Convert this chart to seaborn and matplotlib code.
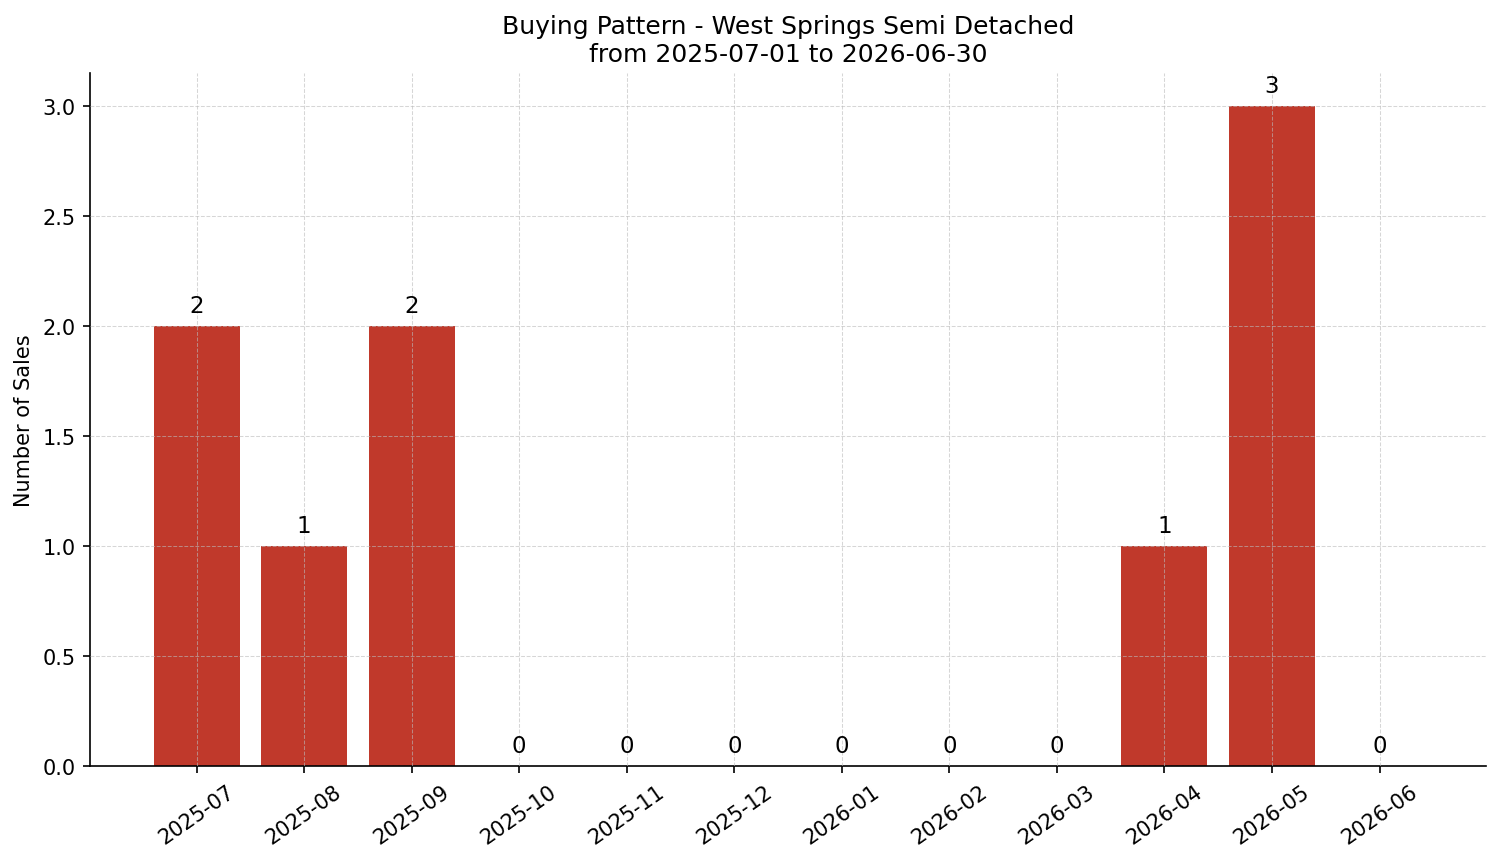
import matplotlib
matplotlib.use("Agg")
import matplotlib.pyplot as plt
import seaborn as sns
import pandas as pd

months = ["2025-07", "2025-08", "2025-09", "2025-10", "2025-11", "2025-12",
          "2026-01", "2026-02", "2026-03", "2026-04", "2026-05", "2026-06"]
sales = [2, 1, 2, 0, 0, 0, 0, 0, 0, 1, 3, 0]

df = pd.DataFrame({"month": months, "sales": sales})

fig, ax = plt.subplots(figsize=(10.007, 5.753), dpi=150)
sns.barplot(data=df, x="month", y="sales", color="#c0392b", saturation=1,
            width=0.8, ax=ax, zorder=1)

for i, v in enumerate(sales):
    ax.text(i, v + 0.04, str(v), ha="center", va="bottom", fontsize=11)

ax.grid(True, linestyle="--", linewidth=0.5, color="#bbbbbb", alpha=0.6, zorder=1.5)
ax.set_axisbelow(False)
ax.set_xlim(-0.99, 11.99)
ax.set_ylim(0, 3.15)
ax.spines["top"].set_visible(False)
ax.spines["right"].set_visible(False)
ax.set_xlabel("")
ax.set_ylabel("Number of Sales", fontsize=10)
ax.tick_params(axis="both", labelsize=10)
plt.setp(ax.get_xticklabels(), rotation=35)
ax.set_title("Buying Pattern - West Springs Semi Detached\nfrom 2025-07-01 to 2026-06-30",
             fontsize=12)

fig.subplots_adjust(left=0.06, right=0.99, top=0.914, bottom=0.111)
fig.savefig("out.png", dpi=150)
plt.close()
